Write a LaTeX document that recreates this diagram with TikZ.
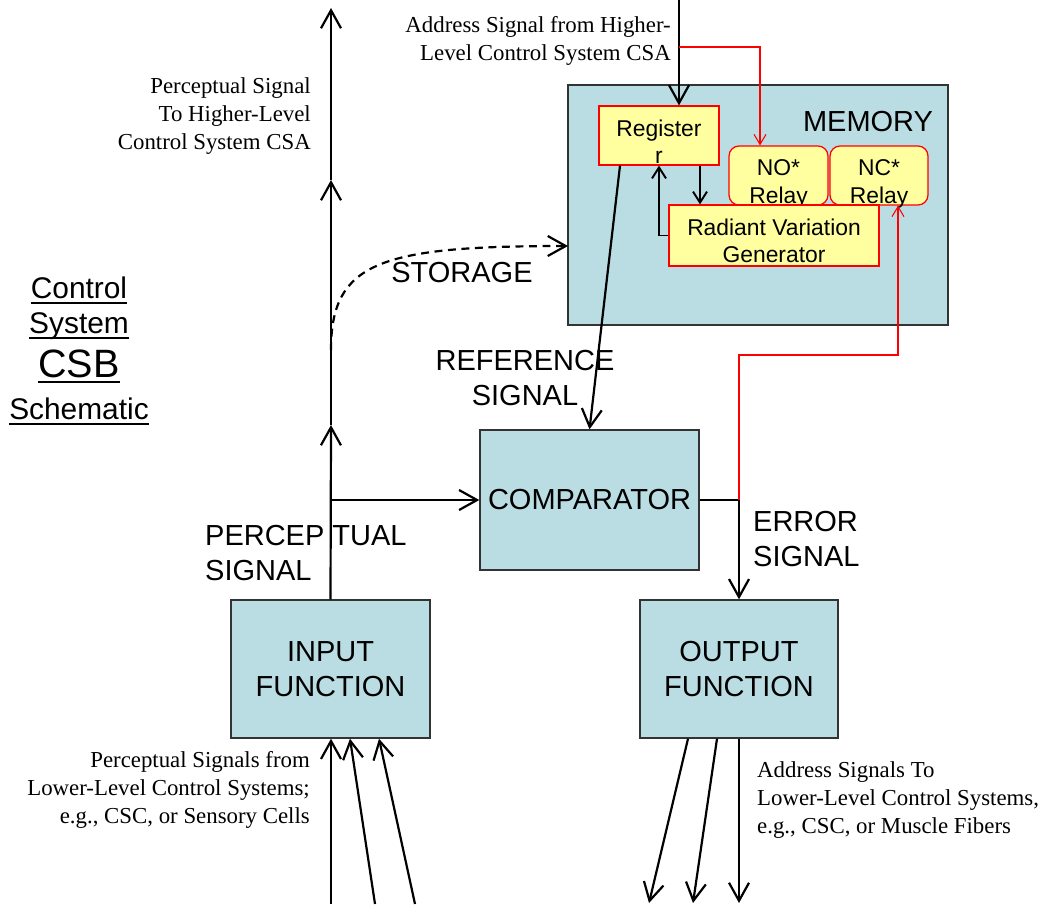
\documentclass[tikz,border=0pt]{standalone}
\usepackage{fontspec}
\setmainfont{Liberation Serif}
\setsansfont{Liberation Sans}
\usetikzlibrary{positioning,arrows.meta,calc}
\definecolor{boxblue}{RGB}{186,221,227}
\definecolor{memyellow}{RGB}{255,255,160}
\newcommand\thickul[1]{\setbox0\hbox{#1}\rlap{\rule[-3pt]{\wd0}{1.1pt}}\box0}

\begin{document}
\begin{tikzpicture}[x=0.02cm, y=-0.02cm, font=\sffamily\fontsize{16.5}{20}\selectfont,
    block/.style={draw=black!80, line width=0.8pt, fill=boxblue, align=center},
    membox/.style={draw=red, line width=0.7pt, fill=memyellow, inner sep=0pt},
    memtext/.style={align=center, yshift=-0.13cm, font=\sffamily\fontsize{13}{15.5}\selectfont},
    sig/.style={line width=1.25pt, -{Straight Barb[length=3.6mm,width=4mm]}},
    smallsig/.style={line width=1.1pt, -{Straight Barb[length=2.2mm,width=2.8mm]}},
    relayline/.style={draw=red, line width=0.6pt, -{Straight Barb[length=2mm,width=2.4mm]}},
    note/.style={font=\rmfamily\fontsize{13}{16}\selectfont}]
    \useasboundingbox (0,0) rectangle (1043,904);
    % boxes
    \node[block, minimum width=3.98cm, minimum height=2.76cm] (input) at (330.5,669) {INPUT\\FUNCTION};
    \node[block, minimum width=3.96cm, minimum height=2.76cm] (output) at (739,669) {OUTPUT\\FUNCTION};
    \node[block, minimum width=4.38cm, minimum height=2.8cm] (comp) at (589.5,500) {COMPARATOR};
    \node[block, minimum width=7.6cm, minimum height=4.8cm] (memory) at (758,205) {};
    \node (memlabel) at (868,122) {MEMORY};
    % inside memory
    \node[membox, minimum width=2.4cm, minimum height=1.18cm,
        label={[memtext]center:Register\\r}] (reg) at (659,135.5) {};
    \node[membox, rounded corners=0.2cm, minimum width=1.98cm, minimum height=1.18cm,
        label={[memtext, yshift=-0.04cm]center:NO*\\Relay}] (norelay) at (778.5,175.5) {};
    \node[membox, rounded corners=0.2cm, minimum width=1.96cm, minimum height=1.18cm,
        label={[memtext, yshift=-0.04cm]center:NC*\\Relay}] (ncrelay) at (879,175.5) {};
    \node[membox, minimum width=4.2cm, minimum height=1.22cm,
        label={[memtext, yshift=0.02cm]center:Radiant Variation\\Generator}] (rvg) at (774,235.5) {};
    % points on the lines
    \coordinate (p1) at (331,425);
    \coordinate (p2) at (331,180);
    \coordinate (ptop) at (331,8);
    \coordinate (pj) at (331,500);
    \coordinate (ps) at (331,350);
    \coordinate (memin) at (568,246);
    \coordinate (addrtop) at (679,0);
    \coordinate (rbend) at (679,47);
    \coordinate (ej) at (739,500);
    \coordinate (rturn) at (739,355);
    % perceptual signal path
    \draw[sig] (input.north) -- (p1);
    \draw[sig] (p1) -- (p2);
    \draw[sig] (p2) -- (ptop);
    \draw[sig] (pj) -- (comp.west);
    \draw[sig, dash pattern=on 4.5pt off 3.2pt] (ps) .. controls (331,262) and (380,246) .. (memin);
    % reference and address
    \draw[sig] ($(reg.south)+(-39,0)$) -- (comp.north);
    \draw[sig] (addrtop) -- (addrtop |- reg.north);
    \draw[relayline] (rbend) -| ($(norelay.north)+(-18.5,0)$);
    \draw[smallsig] ($(reg.south)+(41,0)$) -- ($(rvg.north)+(-74,0)$);
    \draw[smallsig] (rvg.west) -| (reg.south);
    % error signal
    \draw[line width=1.25pt] (comp.east) -- (ej);
    \draw[sig] (ej) -- (output.north);
    \draw[relayline] (ej) -- (rturn) -| ($(ncrelay.south)+(19,0)$);
    % lower level signals
    \foreach \bx/\tx in {331/331,375/350,415/379}{\draw[sig] (\bx,904) -- (input.south -| \tx,0);}
    \foreach \tx/\bx in {688/649,717/693,739/739}{\draw[sig] (output.south -| \tx,0) -- (\bx,903);}
    % labels
    \node[note, align=right, anchor=east] (addrlbl) at (677,41) {Address Signal from Higher-\\Level Control System CSA};
    \node[note, align=right, anchor=east] (uplbl) at (317,116) {Perceptual Signal\\To Higher-Level\\Control System CSA};
    \node[note, align=right, anchor=east] (inlbl) at (316,790) {Perceptual Signals from\\Lower-Level Control Systems;\\e.g., CSC, or Sensory Cells};
    \node[note, align=left, anchor=west] (outlbl) at (751,800) {Address Signals To\\Lower-Level Control Systems,\\e.g., CSC, or Muscle Fibers};
    \node (storelbl) at (462,273) {STORAGE};
    \node[align=center] (reflbl) at (525,378) {REFERENCE\\SIGNAL};
    \node[align=left, anchor=west] (perclbl) at (199,553) {PERCEP TUAL\\SIGNAL};
    \node[align=left, anchor=west] (errlbl) at (747,539) {ERROR\\SIGNAL};
    \node[align=center, font=\sffamily\fontsize{17}{21}\selectfont] (title) at (79,351)
        {\thickul{Control}\\[-1pt]\thickul{System}\\[4pt]{\fontsize{22.5}{25}\selectfont\thickul{CSB}}\\[3pt]\thickul{Schematic}};
\end{tikzpicture}
\end{document}
